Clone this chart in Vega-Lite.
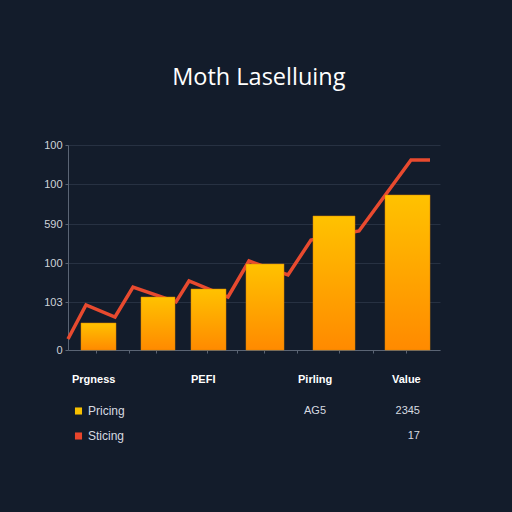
{
  "$schema": "https://vega.github.io/schema/vega-lite/v6.json",
  "description": "Moth Laselluing: bars with a zigzag line and a small table underneath.",
  "background": "#131c2b",
  "padding": {"left": 43, "top": 65, "right": 73, "bottom": 76},
  "title": {
    "text": "Moth Laselluing",
    "font": "Open Sans",
    "fontSize": 23.5,
    "fontWeight": "normal",
    "color": "#ffffff",
    "anchor": "middle",
    "dx": 17,
    "offset": 50
  },
  "datasets": {
    "bars": [
      {"start": 13, "end": 48, "value": 27},
      {"start": 73, "end": 107, "value": 53},
      {"start": 123, "end": 158, "value": 61},
      {"start": 178, "end": 216, "value": 86},
      {"start": 245, "end": 287, "value": 134},
      {"start": 317, "end": 362, "value": 155}
    ],
    "line": [
      {"t": 0, "v": 11},
      {"t": 18, "v": 45},
      {"t": 47, "v": 33},
      {"t": 65, "v": 63},
      {"t": 108, "v": 48},
      {"t": 121, "v": 69},
      {"t": 160, "v": 53},
      {"t": 181, "v": 89},
      {"t": 220, "v": 75},
      {"t": 243, "v": 110},
      {"t": 291, "v": 119},
      {"t": 343, "v": 190},
      {"t": 362, "v": 190}
    ],
    "header": [
      {"col": 0, "row": 0, "text": "Prgness"},
      {"col": 3, "row": 0, "text": "PEFI"},
      {"col": 4, "row": 0, "text": "Pirling"},
      {"col": 6, "row": 0, "text": "Value"}
    ],
    "series": [
      {"row": 1, "name": "Pricing", "pirling": "AG5", "value": "2345"},
      {"row": 2, "name": "Sticing", "pirling": "", "value": "17"}
    ]
  },
  "spacing": 13,
  "vconcat": [
    {
      "width": 372,
      "height": 205,
      "layer": [
        {
          "data": {"name": "line"},
          "mark": {"type": "line", "color": "#e84a2f", "strokeWidth": 3.5, "strokeJoin": "miter"},
          "encoding": {
            "x": {
              "field": "t",
              "type": "quantitative",
              "scale": {"domain": [0, 372], "nice": false},
              "axis": {
                "title": null,
                "labels": false,
                "grid": false,
                "values": [28, 61, 88, 139, 169, 196, 229, 271, 305, 338],
                "tickSize": 3,
                "tickColor": "#5a6474",
                "domainColor": "#5a6474"
              }
            },
            "y": {
              "field": "v",
              "type": "quantitative",
              "scale": {"domain": [0, 205], "nice": false},
              "axis": {
                "title": null,
                "values": [0, 48, 87, 126, 166, 205],
                "labelExpr": "datum.value == 0 ? '0' : datum.value == 48 ? '103' : datum.value == 87 ? '100' : datum.value == 126 ? '590' : '100'",
                "labelFont": "Liberation Sans",
                "labelFontSize": 11,
                "labelColor": "#cfd3d9",
                "labelPadding": 3,
                "tickSize": 3,
                "tickColor": "#5a6474",
                "domainColor": "#5a6474",
                "grid": true,
                "gridColor": "#273142"
              }
            }
          }
        },
        {
          "data": {"name": "bars"},
          "mark": {
            "type": "bar",
            "stroke": "#d98000",
            "strokeWidth": 0.5,
            "color": {
              "gradient": "linear",
              "x1": 0, "y1": 0, "x2": 0, "y2": 1,
              "stops": [
                {"offset": 0, "color": "#ffc200"},
                {"offset": 1, "color": "#ff8a00"}
              ]
            }
          },
          "encoding": {
            "x": {"field": "start", "type": "quantitative"},
            "x2": {"field": "end"},
            "y": {"field": "value", "type": "quantitative"},
            "y2": {"datum": 0}
          }
        }
      ]
    },
    {
      "width": 372,
      "height": 80,
      "encoding": {
        "y": {
          "field": "row",
          "type": "quantitative",
          "scale": {"domain": [0, 1, 2], "range": [12, 43, 68]},
          "axis": null
        }
      },
      "layer": [
        {
          "data": {"name": "header"},
          "mark": {"type": "text", "align": "left", "baseline": "middle", "font": "Liberation Sans", "fontWeight": "bold", "fontSize": 11, "color": "#ffffff"},
          "encoding": {
            "x": {
              "field": "col",
              "type": "quantitative",
              "scale": {"domain": [0, 1, 2, 3, 4, 5, 6, 7], "range": [4, 10.5, 20, 123, 230, 258, 324, 352]},
              "axis": null
            },
            "text": {"field": "text"}
          }
        },
        {
          "data": {"name": "series"},
          "mark": {"type": "square", "size": 50, "filled": true, "opacity": 1},
          "encoding": {
            "x": {"datum": 1, "type": "quantitative"},
            "color": {
              "field": "name",
              "type": "nominal",
              "scale": {"domain": ["Pricing", "Sticing"], "range": ["#f7c000", "#e8452c"]},
              "legend": null
            }
          }
        },
        {
          "data": {"name": "series"},
          "mark": {"type": "text", "align": "left", "baseline": "middle", "font": "Liberation Sans", "fontSize": 12, "color": "#d6dae0"},
          "encoding": {
            "x": {"datum": 2, "type": "quantitative"},
            "text": {"field": "name"}
          }
        },
        {
          "data": {"name": "series"},
          "mark": {"type": "text", "align": "right", "baseline": "middle", "font": "Liberation Sans", "fontSize": 11, "color": "#d6dae0"},
          "encoding": {
            "x": {"datum": 5, "type": "quantitative"},
            "text": {"field": "pirling"}
          }
        },
        {
          "data": {"name": "series"},
          "mark": {"type": "text", "align": "right", "baseline": "middle", "font": "Liberation Sans", "fontSize": 11, "color": "#d6dae0"},
          "encoding": {
            "x": {"datum": 7, "type": "quantitative"},
            "text": {"field": "value"}
          }
        }
      ]
    }
  ],
  "config": {
    "view": {"stroke": null},
    "font": "Open Sans"
  }
}
